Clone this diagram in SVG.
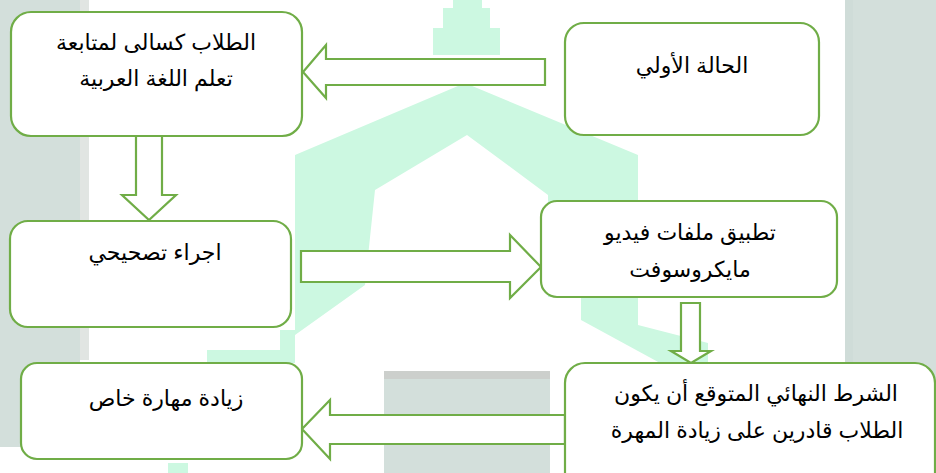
<svg xmlns="http://www.w3.org/2000/svg" width="936" height="473" viewBox="0 0 936 473">
<style>
.box{fill:#fff;stroke:#70AD47;stroke-width:2.2}
.arr{fill:#fff;stroke:#70AD47;stroke-width:2.2;stroke-linejoin:miter}
.t{font-family:"Liberation Sans","DejaVu Sans",sans-serif;font-size:22px;fill:#000;text-anchor:middle;direction:rtl}
.wm{fill:#CCF8E1}
.gs{fill:#D3DFDB}
</style>
<g id="background">
<rect x="0" y="0" width="936" height="473" fill="#fff"/>
<rect class="gs" x="0" y="0" width="80" height="447"/>
<rect x="80" y="0" width="9" height="360" fill="#E1E5E2"/>
<rect class="gs" x="845" y="0" width="91" height="473"/>
<rect x="845" y="0" width="8" height="473" fill="#CFDCD8"/>
<rect class="gs" x="384" y="371" width="166" height="102"/>
<rect x="384" y="371" width="166" height="8" fill="#CCCFCC"/>
<polygon class="wm" points="453,0 482,0 482,8 490,8 490,28 500,28 500,55 433,55 433,28 443,28 443,8 453,8"/>
<polygon class="wm" points="465,83 638,155 638,297 548,297 548,195 467,135 375,190 365,285 295,335 295,155"/>
<polygon class="wm" points="581,297 638,297 638,325 708,343 708,363 660,363 581,320"/>
<rect class="wm" x="207" y="350" width="88" height="13"/>
<rect class="wm" x="280" y="330" width="15" height="33"/>
<rect class="wm" x="168" y="463" width="20" height="10"/>
</g>
<g id="connectors">
<polygon class="arr" points="545,59 326,59 326,45 303,72 326,98 326,85 545,85"/>
<polygon class="arr" points="136,136 162,136 162,195 176,195 149,220 122,195 136,195"/>
<polygon class="arr" points="301,251 510,251 510,235 541,267 510,298 510,282 301,282"/>
<polygon class="arr" points="681,303 700,303 700,351 711,351 691,363 671,351 681,351"/>
<polygon class="arr" points="565,415 330,415 330,400 302,429 330,459 330,444 565,444"/>
</g>
<g id="node-students">
<rect class="box" x="11" y="12" width="291" height="124" rx="20"/>
<text class="t" x="156" y="50">الطلاب كسالى لمتابعة</text>
<text class="t" x="156" y="86">تعلم اللغة العربية</text>
</g>
<g id="node-initial">
<rect class="box" x="565" y="23" width="254" height="112" rx="19"/>
<text class="t" x="692" y="73">الحالة الأولي</text>
</g>
<g id="node-corrective">
<rect class="box" x="10" y="221" width="281" height="106" rx="18"/>
<text class="t" x="155" y="260">اجراء تصحيحي</text>
</g>
<g id="node-video">
<rect class="box" x="541" y="201" width="296" height="96" rx="16"/>
<text class="t" x="690" y="240">تطبيق ملفات فيديو</text>
<text class="t" x="690" y="277">مايكروسوفت</text>
</g>
<g id="node-final">
<rect class="box" x="565" y="363" width="370" height="130" rx="20"/>
<text class="t" x="756" y="401">الشرط النهائي المتوقع أن يكون</text>
<text class="t" x="757" y="438">الطلاب قادرين على زيادة المهرة</text>
</g>
<g id="node-skill">
<rect class="box" x="21" y="363" width="281" height="96" rx="16"/>
<text class="t" x="166" y="406">زيادة مهارة خاص</text>
</g>
</svg>
